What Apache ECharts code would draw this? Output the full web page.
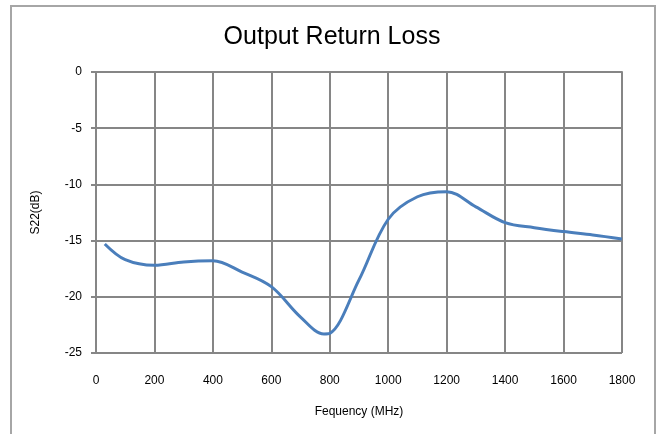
<!DOCTYPE html>
<html><head><meta charset="utf-8">
<script src="https://cdn.jsdelivr.net/npm/echarts@6/dist/echarts.min.js"></script>
<style>html,body{margin:0;padding:0;background:#fff}#c{width:664px;height:434px}</style>
</head><body><div id="c"></div>
<script>
const titleText = "Output Return Loss";
const xName = "Fequency (MHz)";
const yName = "S22(dB)";
const freq = [30, 100, 200, 300, 400, 500, 600, 700, 780, 800, 900, 1000, 1100, 1200, 1300, 1400, 1500, 1600, 1700, 1800];
const s22  = [-15.3, -16.7, -17.2, -16.9, -16.8, -17.8, -19.1, -21.8, -23.3, -23.25, -18.5, -13.1, -11.1, -10.65, -12.0, -13.4, -13.85, -14.2, -14.5, -14.85];

const chart = echarts.init(document.getElementById('c'));
chart.setOption({
  animation: false,
  backgroundColor: '#fff',
  graphic: [{type:'rect', shape:{x:11, y:6, width:644, height:440}, style:{fill:'none', stroke:'#a6a6a6', lineWidth:2}, z:-1}],
  title: {text: titleText, left: 'center', top: 20, textStyle:{fontFamily:'Liberation Sans', fontWeight:'normal', fontSize:25, color:'#000'}},
  grid: {left: 96, right: 42, top: 72, bottom: 81},
  xAxis: {type:'value', min:0, max:1800, interval:200, name:xName, nameLocation:'middle', nameGap:53,
    nameTextStyle:{fontFamily:'Liberation Sans', fontSize:12, color:'#000'},
    axisLine:{show:true, lineStyle:{color:'#868686', width:2}},
    axisTick:{show:true, length:5, lineStyle:{color:'#868686', width:2}},
    axisLabel:{fontFamily:'Liberation Sans', fontSize:12, color:'#000', margin:22, formatter: v => String(v)},
    splitLine:{show:true, lineStyle:{color:'#868686', width:2}}},
  yAxis: {type:'value', min:-25, max:0, interval:5, name:yName, nameLocation:'middle', nameGap:54, nameRotate:90,
    nameTextStyle:{fontFamily:'Liberation Sans', fontSize:12, color:'#000'},
    axisLine:{show:true, lineStyle:{color:'#868686', width:2}},
    axisTick:{show:true, length:5, lineStyle:{color:'#868686', width:2}},
    axisLabel:{fontFamily:'Liberation Sans', fontSize:12, color:'#000', margin:14},
    splitLine:{show:true, lineStyle:{color:'#868686', width:2}}},
  series: [{type:'line', data: freq.map((f,i)=>[f, s22[i]]), smooth:0.35, showSymbol:false,
    lineStyle:{color:'#4a7ebb', width:3}}]
});
</script></body></html>
